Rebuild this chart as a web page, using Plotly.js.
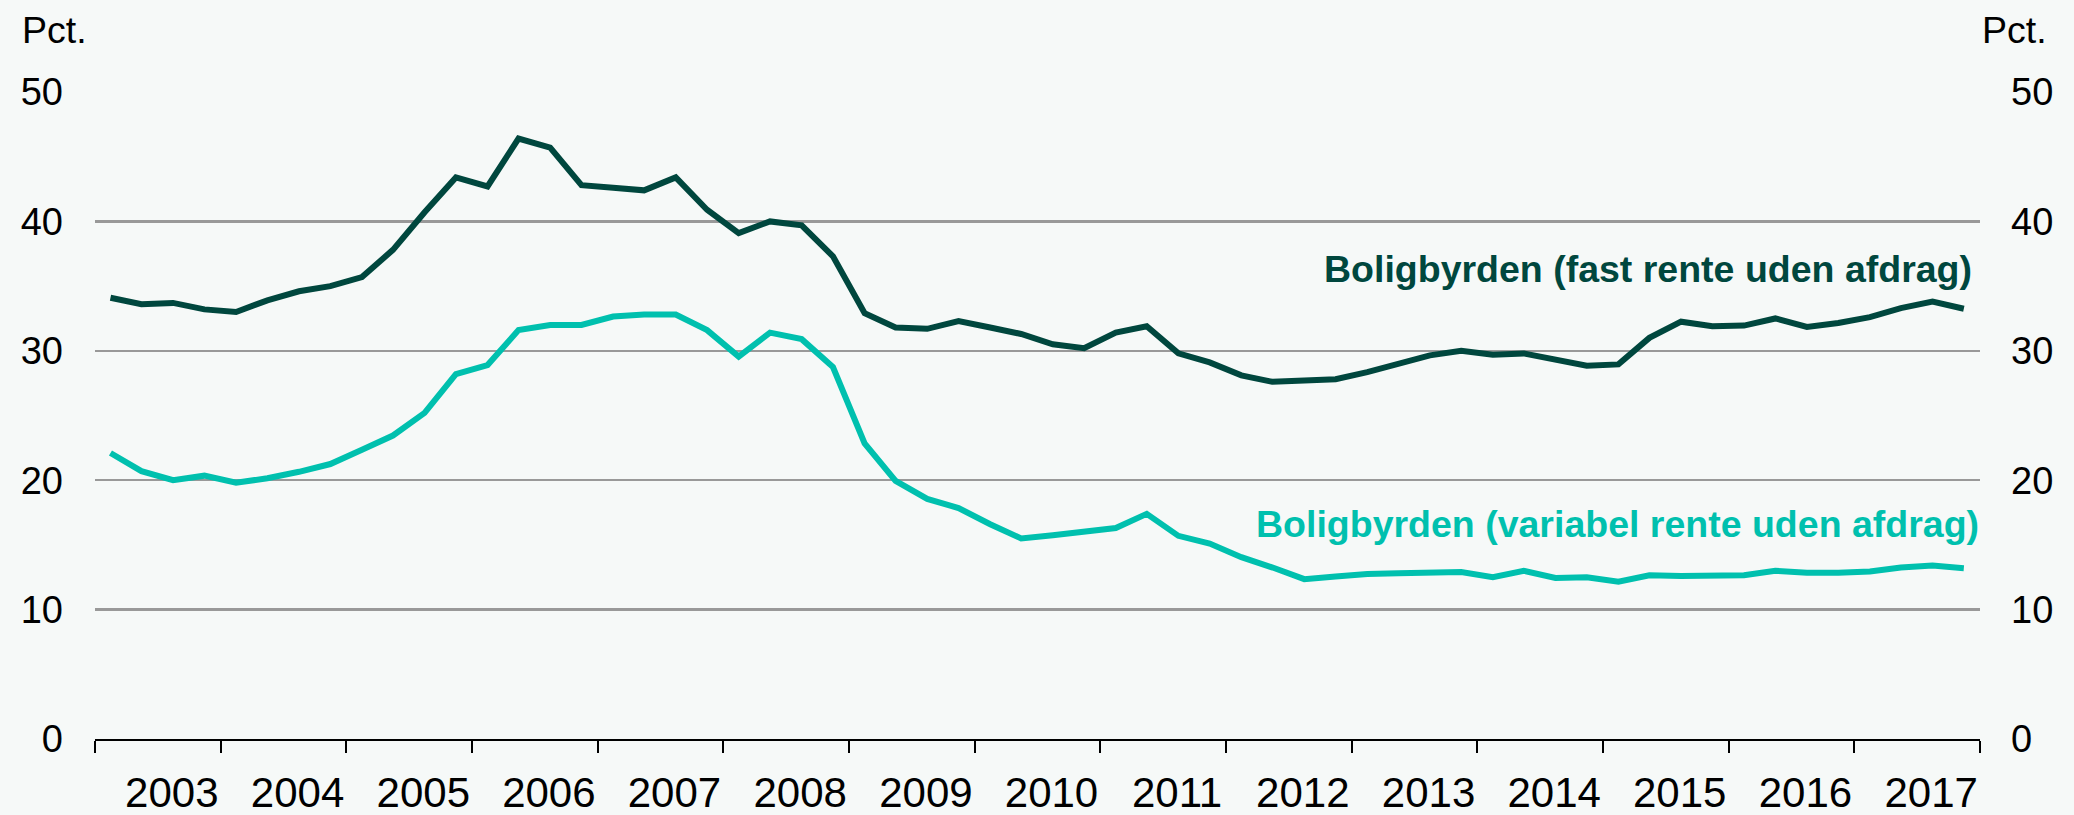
<!DOCTYPE html>
<html>
<head>
<meta charset="utf-8">
<script src="https://cdn.plot.ly/plotly-3.0.1.min.js"></script>
<style>
  html, body { margin: 0; padding: 0; background: #F6F9F8; }
  #chart { width: 2074px; height: 815px; }
</style>
</head>
<body>
<div id="chart"></div>
<script>
// Quarterly data, 2003 Q1 – 2017 Q4 (60 quarters)
const startYear = 2003;
const quarterMid = ['02-15', '05-16', '08-16', '11-15'];

const fastRente = [
  34.1, 33.6, 33.7, 33.2, 33.0, 33.9, 34.6, 35.0, 35.7, 37.8,
  40.7, 43.4, 42.7, 46.4, 45.7, 42.8, 42.6, 42.4, 43.4, 40.9,
  39.1, 40.0, 39.7, 37.3, 32.9, 31.8, 31.7, 32.3, 31.8, 31.3,
  30.5, 30.2, 31.4, 31.9, 29.8, 29.1, 28.1, 27.6, 27.7, 27.8,
  28.35, 29.0, 29.65, 30.0, 29.7, 29.8, 29.35, 28.85, 28.95, 31.0,
  32.25, 31.9, 31.95, 32.5, 31.85, 32.15, 32.6, 33.3, 33.8, 33.25
];

const variabelRente = [
  22.1, 20.7, 20.0, 20.35, 19.8, 20.15, 20.65, 21.25, 22.35, 23.45,
  25.2, 28.2, 28.9, 31.6, 32.0, 32.0, 32.65, 32.8, 32.8, 31.6,
  29.55, 31.4, 30.9, 28.75, 22.85, 19.95, 18.55, 17.85, 16.6, 15.5,
  15.75, 16.0, 16.3, 17.4, 15.7, 15.1, 14.05, 13.25, 12.35, 12.55,
  12.75, 12.8, 12.8, 12.9, 12.5, 13.0, 12.45, 12.5, 12.15, 12.65,
  12.6, 12.65, 12.65, 13.0, 12.85, 12.85, 12.95, 13.25, 13.4, 13.2
];

const yearLabelsFrom = '2003-01-01';
const yearLabelsTo = '2018-01-01';
const yTicks = [0, 10, 20, 30, 40, 50];

const seriesNames = [
  'Boligbyrden (fast rente uden afdrag)',
  'Boligbyrden (variabel rente uden afdrag)'
];

const darkColor = '#00473E';
const tealColor = '#00C0AE';

const quarters = [];
for (let i = 0; i < fastRente.length; i++) {
  const y = startYear + Math.floor(i / 4);
  quarters.push(y + '-' + quarterMid[i % 4]);
}

const FONT = 'Liberation Sans, Arial, sans-serif';

const traces = [
  {
    x: quarters, y: fastRente, type: 'scatter', mode: 'lines',
    name: seriesNames[0], line: { color: darkColor, width: 6 },
    xaxis: 'x', yaxis: 'y', hoverinfo: 'skip'
  },
  {
    x: quarters, y: variabelRente, type: 'scatter', mode: 'lines',
    name: seriesNames[1], line: { color: tealColor, width: 6 },
    xaxis: 'x', yaxis: 'y2', hoverinfo: 'skip'
  }
];

const layout = {
  width: 2074, height: 815,
  margin: { l: 95, r: 94, t: 92, b: 76, pad: 0 },
  paper_bgcolor: '#F6F9F8',
  plot_bgcolor: '#F6F9F8',
  showlegend: false,
  font: { family: FONT, color: '#000000', size: 38 },
  xaxis: {
    type: 'date',
    range: [yearLabelsFrom, yearLabelsTo],
    tick0: yearLabelsFrom,
    dtick: 'M12',
    tickformat: '%Y',
    ticklabelmode: 'period',
    ticklabelshift: 14,
    ticks: 'outside', ticklen: 12, tickwidth: 2, tickcolor: '#000000',
    showline: true, linecolor: '#000000', linewidth: 2,
    showgrid: false, zeroline: false,
    tickfont: { family: FONT, size: 42, color: '#000000' },
    ticklabelstandoff: 4,
    fixedrange: true
  },
  yaxis: {
    range: [0, 50],
    tickvals: yTicks,
    ticks: '',
    showgrid: true, gridcolor: '#999999', gridwidth: 2.5,
    zeroline: false, showline: false,
    tickfont: { family: FONT, size: 38, color: '#000000' },
    ticklabelstandoff: 31,
    fixedrange: true
  },
  yaxis2: {
    range: [0, 50],
    overlaying: 'y', side: 'right', anchor: 'x',
    tickvals: yTicks,
    ticks: '',
    showgrid: false, zeroline: false, showline: false,
    tickfont: { family: FONT, size: 38, color: '#000000' },
    ticklabelstandoff: 30,
    fixedrange: true
  },
  annotations: [
    {
      text: 'Pct.', xref: 'paper', yref: 'paper',
      x: -0.0398, y: 1.096, xanchor: 'left', yanchor: 'middle',
      showarrow: false, font: { family: FONT, size: 37.5, color: '#000000' }
    },
    {
      text: 'Pct.', xref: 'paper', yref: 'paper',
      x: 1.0368, y: 1.096, xanchor: 'right', yanchor: 'middle',
      showarrow: false, font: { family: FONT, size: 37.5, color: '#000000' }
    },
    {
      text: '<b>' + seriesNames[0] + '</b>', xref: 'paper', yref: 'y',
      x: 0.9968, y: 36.3, xanchor: 'right', yanchor: 'middle',
      showarrow: false, font: { family: FONT, size: 37.5, color: darkColor }
    },
    {
      text: '<b>' + seriesNames[1] + '</b>', xref: 'paper', yref: 'y',
      x: 1.0005, y: 16.6, xanchor: 'right', yanchor: 'middle',
      showarrow: false, font: { family: FONT, size: 37.5, color: tealColor }
    }
  ]
};

Plotly.newPlot('chart', traces, layout, { displayModeBar: false, staticPlot: true });
</script>
</body>
</html>
